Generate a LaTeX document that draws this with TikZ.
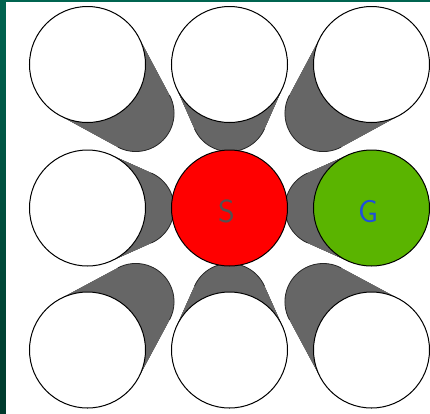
\documentclass[tikz,border=0pt]{standalone}
\usetikzlibrary{calc}
\definecolor{shadowgrey}{RGB}{102,102,102}
\definecolor{sred}{RGB}{255,0,0}
\definecolor{ggreen}{RGB}{90,180,0}
\definecolor{sgrey}{RGB}{85,80,80}
\definecolor{gblue}{RGB}{30,80,220}
\definecolor{bgtop}{RGB}{0,100,80}
\definecolor{bgbot}{RGB}{0,58,44}
\begin{document}
\begin{tikzpicture}[x=1bp,y=-1bp,
  disc/.style={circle, draw=black, line width=1bp, minimum size=116bp, inner sep=0pt},
  rim/.style={draw=black!85, line width=0.8bp},
  lbl/.style={font=\sffamily\fontsize{32}{32}\selectfont, inner sep=0pt}]
\useasboundingbox (0,0) rectangle (430,414);
\shade[top color=bgtop, bottom color=bgbot] (0,0) rectangle (6,414);
\fill[bgtop] (0,0) rectangle (430,2);
\fill[white] (6,2) rectangle (431,415);
\coordinate (S) at (229.5,208);
\foreach \px/\py/\ang/\ph [count=\i] in {87.5/64.5/45/73.2, 229.5/64.5/90/65.9, 371.5/64.5/135/73.2, 87.5/208/0/65.9, 371.5/208/180/65.9, 87.5/350/-45/73.2, 229.5/350/-90/65.9, 371.5/350/-135/73.2}{
  \coordinate (P\i) at (\px,\py);
  \coordinate (Q\i) at ($(S)!0.66!(P\i)$);
  \foreach \t in {0,0.025,...,1.001}{
    \fill[shadowgrey] ($(P\i)!\t!(Q\i)$) circle[radius={58-\t*19.72}];
  }
  \draw[rim] (Q\i) ++(\ang-\ph:38.28) arc[start angle=\ang-\ph, end angle=\ang+\ph, radius=38.28];
}
\node[disc, fill=white] (c1) at (87.5,64.5) {};
\node[disc, fill=white] (c2) at (229.5,64.5) {};
\node[disc, fill=white] (c3) at (371.5,64.5) {};
\node[disc, fill=white] (c4) at (87.5,208) {};
\node[disc, fill=sred] (s) at (S) {};
\node[disc, fill=ggreen] (g) at (371.5,208) {};
\node[disc, fill=white] (c6) at (87.5,350) {};
\node[disc, fill=white] (c7) at (229.5,350) {};
\node[disc, fill=white] (c8) at (371.5,350) {};
\node[lbl, text=sgrey] (slab) at (226.5,211.5) {S};
\node[lbl, text=gblue] (glab) at (368,211.5) {G};
\end{tikzpicture}
\end{document}
